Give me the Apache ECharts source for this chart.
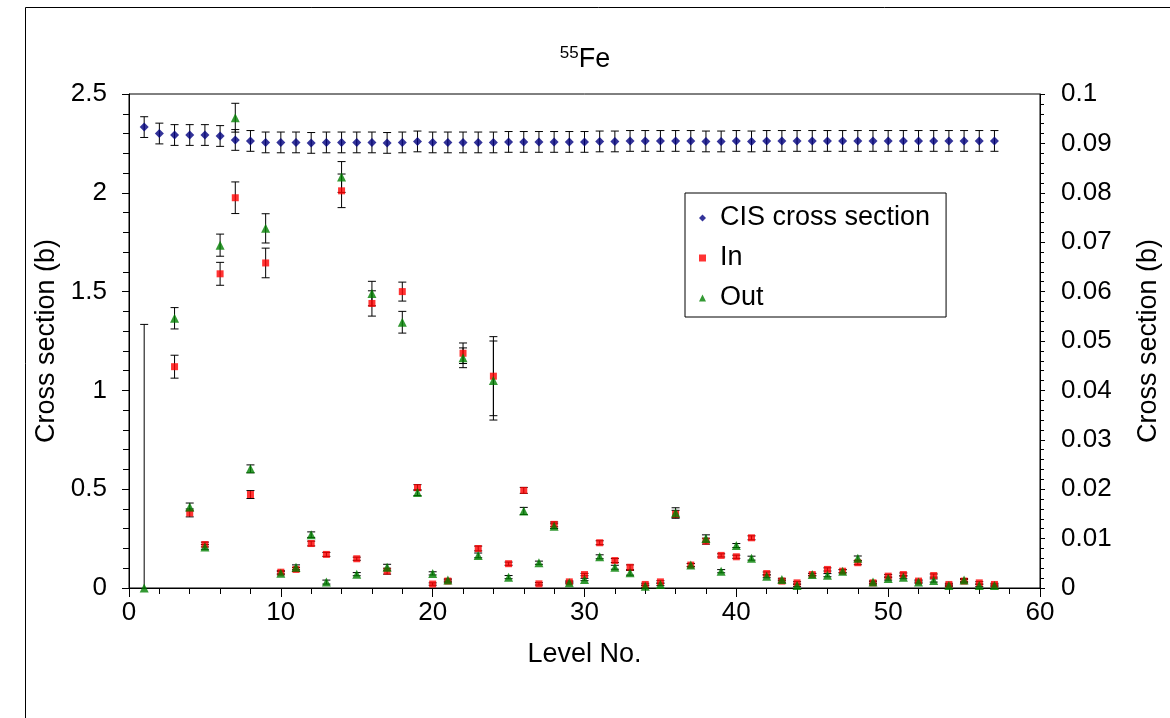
<!DOCTYPE html>
<html><head><meta charset="utf-8">
<script src="https://cdn.jsdelivr.net/npm/echarts@6/dist/echarts.min.js"></script>
<style>html,body{margin:0;padding:0;background:#fff;}#c{width:1170px;height:718px;}</style>
</head><body><div id="c"></div>
<script>
const levels = [1,2,3,4,5,6,7,8,9,10,11,12,13,14,15,16,17,18,19,20,21,22,23,24,25,26,27,28,29,30,31,32,33,34,35,36,37,38,39,40,41,42,43,44,45,46,47,48,49,50,51,52,53,54,55,56,57];
// CIS cross section (right axis, b)
const cisValues = [0.0933,0.0920,0.0917,0.0917,0.0917,0.0915,0.0907,0.0905,0.0902,0.0902,0.0902,0.0901,0.0902,0.0902,0.0902,0.0902,0.0901,0.0902,0.0904,0.0902,0.0902,0.0902,0.0902,0.0902,0.0903,0.0903,0.0903,0.0903,0.0903,0.0903,0.0904,0.0904,0.0905,0.0905,0.0905,0.0905,0.0905,0.0904,0.0904,0.0905,0.0904,0.0905,0.0905,0.0905,0.0905,0.0905,0.0905,0.0905,0.0905,0.0905,0.0905,0.0905,0.0905,0.0905,0.0905,0.0905,0.0905];
const cisErrors = [0.0021,0.0021,0.0021,0.0021,0.0021,0.0021,0.0021,0.0021,0.0021,0.0021,0.0021,0.0021,0.0021,0.0021,0.0021,0.0021,0.0021,0.0021,0.0021,0.0021,0.0021,0.0021,0.0021,0.0021,0.0021,0.0021,0.0021,0.0021,0.0021,0.0021,0.0021,0.0021,0.0021,0.0021,0.0021,0.0021,0.0021,0.0021,0.0021,0.0021,0.0021,0.0021,0.0021,0.0021,0.0021,0.0021,0.0021,0.0021,0.0021,0.0021,0.0021,0.0021,0.0021,0.0021,0.0021,0.0021,0.0021];
// In (left axis, b)
const inValues = [null,null,1.12,0.38,0.22,1.59,1.975,0.473,1.645,0.08,0.094,0.225,0.17,2.01,0.148,1.44,0.085,1.50,0.508,0.02,0.035,1.188,0.20,1.072,0.123,0.494,0.021,0.322,0.031,0.068,0.229,0.139,0.105,0.018,0.031,0.373,0.116,0.237,0.165,0.158,0.254,0.073,0.035,0.026,0.068,0.094,0.085,0.128,0.026,0.06,0.068,0.035,0.063,0.018,0.035,0.026,0.018];
const inErrors = [null,null,0.058,0.02,0.012,0.058,0.08,0.02,0.075,0.008,0.01,0.012,0.01,0.085,0.008,0.064,0.015,0.048,0.015,0.006,0.006,0.052,0.012,0.2,0.008,0.015,0.006,0.012,0.005,0.006,0.01,0.01,0.012,0.006,0.006,0.02,0.008,0.015,0.008,0.008,0.01,0.008,0.006,0.006,0.006,0.008,0.008,0.01,0.006,0.008,0.008,0.006,0.008,0.006,0.008,0.006,0.006];
// Out (left axis, b)
const outValues = [0.0,null,1.365,0.41,0.208,1.735,2.38,0.603,1.82,0.075,0.105,0.27,0.03,2.08,0.07,1.49,0.105,1.345,0.483,0.074,0.04,1.165,0.165,1.05,0.055,0.39,0.128,0.313,0.026,0.043,0.158,0.105,0.077,0.009,0.018,0.381,0.116,0.251,0.085,0.215,0.151,0.06,0.043,0.013,0.068,0.065,0.085,0.15,0.03,0.048,0.055,0.03,0.038,0.013,0.04,0.013,0.013];
const outErrors = [1.334,null,0.054,0.02,0.012,0.056,0.073,0.02,0.074,0.008,0.012,0.014,0.01,0.078,0.008,0.062,0.015,0.055,0.015,0.008,0.006,0.05,0.012,0.2,0.008,0.018,0.008,0.012,0.005,0.006,0.01,0.01,0.012,0.006,0.006,0.025,0.008,0.018,0.008,0.01,0.01,0.008,0.006,0.006,0.006,0.008,0.008,0.012,0.006,0.008,0.008,0.006,0.008,0.006,0.008,0.006,0.006];

const xTicks = {min: 0, max: 60, interval: 10};
const leftTicks = {min: 0, max: 2.5, interval: 0.5};
const rightTicks = {min: 0, max: 0.1, interval: 0.01};

const FONT = '"Liberation Sans", Arial, sans-serif';

function points(vals) {
  const out = [];
  levels.forEach((l, i) => { if (vals[i] != null) out.push([l, vals[i]]); });
  return out;
}
function errData(vals, errs) {
  const out = [];
  levels.forEach((l, i) => { if (vals[i] != null) out.push([l, vals[i] - errs[i], vals[i] + errs[i]]); });
  return out;
}
function errSeries(name, yIdx, vals, errs) {
  return {
    name: name, type: 'custom', xAxisIndex: 0, yAxisIndex: yIdx, clip: true, z: 1, silent: true,
    encode: {x: 0, y: [1, 2]},
    data: errData(vals, errs),
    renderItem: function (params, api) {
      const x = api.value(0), lo = api.value(1), hi = api.value(2);
      const pHi = api.coord([x, hi]), pLo = api.coord([x, lo]);
      const hw = 4;
      const st = {stroke: '#000', lineWidth: 1};
      return {type: 'group', children: [
        {type: 'line', shape: {x1: pHi[0], y1: pHi[1], x2: pLo[0], y2: pLo[1]}, style: st},
        {type: 'line', shape: {x1: pHi[0] - hw, y1: pHi[1], x2: pHi[0] + hw, y2: pHi[1]}, style: st},
        {type: 'line', shape: {x1: pLo[0] - hw, y1: pLo[1], x2: pLo[0] + hw, y2: pLo[1]}, style: st}
      ]};
    }
  };
}

const chart = echarts.init(document.getElementById('c'), null, {renderer: 'canvas'});
const axisCommon = {
  axisLine: {show: true, lineStyle: {color: '#000', width: 1}},
  splitLine: {show: false},
  minorSplitLine: {show: false},
  axisLabel: {color: '#000', fontSize: 26, fontFamily: FONT},
  nameTextStyle: {color: '#000', fontSize: 27, fontFamily: FONT}
};
chart.setOption({
  animation: false,
  backgroundColor: '#fff',
  textStyle: {fontFamily: FONT},
  title: {
    text: '{sup|55}{b|Fe}', left: 'center', top: 40,
    textStyle: {fontWeight: 'normal', rich: {
      sup: {fontSize: 17, fontWeight: 'normal', fontFamily: FONT, color: '#000', verticalAlign: 'top', padding: [0, 0, 12, 0]},
      b: {fontSize: 27, fontWeight: 'normal', fontFamily: FONT, color: '#000'}
    }}
  },
  grid: {left: 129, right: 129, top: 94, bottom: 130, show: true, borderColor: '#000', borderWidth: 1, containLabel: false},
  legend: {
    orient: 'vertical', left: 685, top: 193,
    data: [
      {name: 'CIS cross section', icon: 'diamond'},
      {name: 'In', icon: 'rect'},
      {name: 'Out', icon: 'triangle'}
    ],
    itemWidth: 7, itemHeight: 7, itemGap: 10,
    padding: [10, 16, 4, 14],
    borderColor: '#000', borderWidth: 1, backgroundColor: '#fff',
    textStyle: {color: '#000', fontSize: 27, fontFamily: FONT, lineHeight: 30, padding: [0, 0, 0, 9]},
    selectedMode: false
  },
  xAxis: Object.assign({}, axisCommon, {
    type: 'value', min: xTicks.min, max: xTicks.max, interval: xTicks.interval,
    name: 'Level No.', nameLocation: 'middle', nameGap: 53,
    axisTick: {show: true, inside: false, length: 9, lineStyle: {color: '#000'}},
    minorTick: {show: true, splitNumber: 5, length: 6, lineStyle: {color: '#000'}},
    axisLabel: Object.assign({}, axisCommon.axisLabel, {margin: 12})
  }),
  yAxis: [
    Object.assign({}, axisCommon, {
      type: 'value', position: 'left', min: leftTicks.min, max: leftTicks.max, interval: leftTicks.interval,
      name: 'Cross section (b)', nameLocation: 'middle', nameGap: 68,
      axisTick: {show: true, inside: false, length: 7, lineStyle: {color: '#000'}},
      minorTick: {show: true, splitNumber: 5, length: 6, lineStyle: {color: '#000'}},
      axisLabel: Object.assign({}, axisCommon.axisLabel, {margin: 22})
    }),
    Object.assign({}, axisCommon, {
      type: 'value', position: 'right', min: rightTicks.min, max: rightTicks.max, interval: rightTicks.interval,
      name: 'Cross section (b)', nameLocation: 'middle', nameGap: 95, nameRotate: 90,
      axisTick: {show: true, inside: false, length: 5, lineStyle: {color: '#000'}},
      minorTick: {show: true, splitNumber: 5, length: 4, lineStyle: {color: '#000'}},
      axisLabel: Object.assign({}, axisCommon.axisLabel, {margin: 21})
    })
  ],
  graphic: [{
    type: 'rect', left: 23, top: 5, z: 100, silent: true,
    shape: {x: 0.5, y: 0.5, width: 1300, height: 900},
    style: {fill: 'none', stroke: '#000', lineWidth: 1}
  }],
  series: [
    errSeries('cisErr', 1, cisValues, cisErrors),
    {name: 'CIS cross section', type: 'scatter', yAxisIndex: 1, symbol: 'diamond', symbolSize: 9, z: 3,
     itemStyle: {color: '#000080'}, data: points(cisValues)},
    errSeries('inErr', 0, inValues, inErrors),
    {name: 'In', type: 'scatter', yAxisIndex: 0, symbol: 'rect', symbolSize: 7, z: 4,
     itemStyle: {color: '#ff0000'}, data: points(inValues)},
    errSeries('outErr', 0, outValues, outErrors),
    {name: 'Out', type: 'scatter', yAxisIndex: 0, symbol: 'triangle', symbolSize: 9, z: 5,
     itemStyle: {color: '#008000'}, data: points(outValues)}
  ]
});
</script>
</body></html>
